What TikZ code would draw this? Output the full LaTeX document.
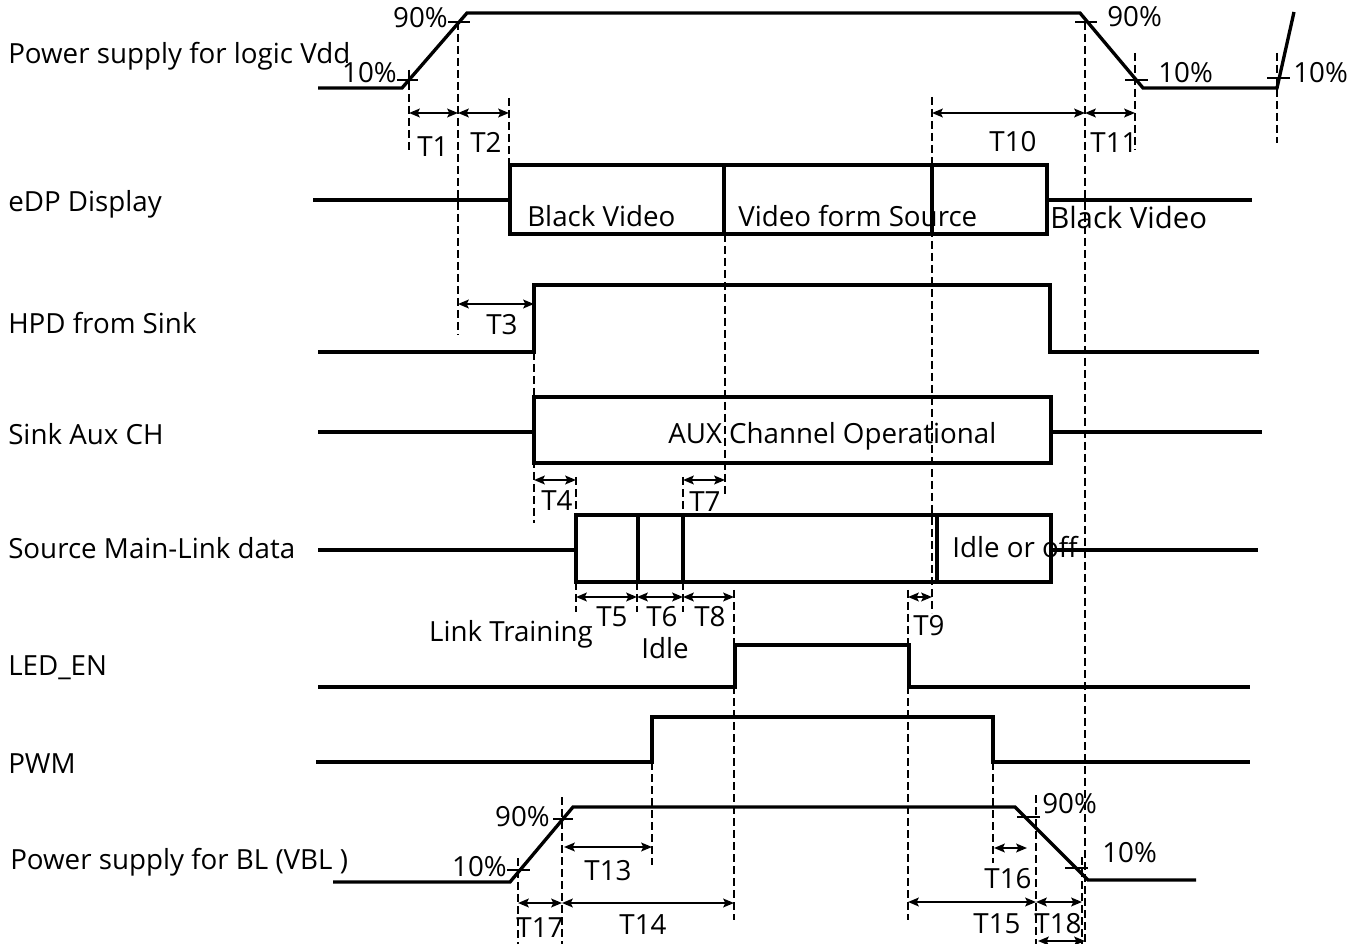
\documentclass[tikz,border=0pt]{standalone}
\usepackage{fontspec}
\setmainfont{Open Sans}
\usetikzlibrary{arrows.meta}
\tikzset{
  sig/.style={line width=2.5pt, line join=miter},
  dim/.style={{Stealth[length=8pt,width=6.5pt,inset=1.5pt]}-{Stealth[length=8pt,width=6.5pt,inset=1.5pt]}, line width=1.5pt},
  dsh/.style={line width=1.1pt, dash pattern=on 6pt off 3pt},
  tck/.style={line width=1.4pt},
  lbl/.style={inner sep=0pt, font=\fontsize{20.8pt}{25pt}\selectfont},
}
\begin{document}
\begin{tikzpicture}[x=0.75pt,y=-0.75pt]
\useasboundingbox (0,0) rectangle (1357,944);

% ---------- left labels
\node[lbl,anchor=base west] (lv) at (8,64) {Power supply for logic Vdd};
\node[lbl,anchor=base west] (le) at (8,212) {eDP Display};
\node[lbl,anchor=base west] (lh) at (8,334) {HPD from Sink};
\node[lbl,anchor=base west] (la) at (8,445) {Sink Aux CH};
\node[lbl,anchor=base west] (ls) at (8,559) {Source Main-Link data};
\node[lbl,anchor=base west] (ll) at (8,676) {LED\_EN};
\node[lbl,anchor=base west] (lp) at (8,773) {PWM};
\node[lbl,anchor=base west] (lb) at (10,869) {Power supply for BL (VBL )};

% ---------- Vdd
\coordinate (v0) at (318,88); \coordinate (v1) at (402,88); \coordinate (v2) at (467,13);
\coordinate (v3) at (1080,13); \coordinate (v4) at (1143,88); \coordinate (v5) at (1277,88);
\coordinate (v6) at (1294,12);
\draw[sig] (v0) -- (v1) -- (v2) -- (v3) -- (v4) -- (v5) -- (v6);
\draw[tck] (397,80) -- (418,80);
\draw[tck] (448,22) -- (470,22);
\draw[tck] (1075,22) -- (1097,22);
\draw[tck] (1125,80) -- (1148,80);
\draw[tck] (1267,78) -- (1290,78);
\draw[tck] (409,70) -- (409,88);
\draw[dsh] (409,70) -- (409,150);
\draw[dsh] (458,22) -- (458,335);
\draw[dsh] (509,98) -- (509,234);
\draw[dsh] (1085,22) -- (1085,944);
\draw[dsh] (1135,53) -- (1135,150);
\draw[dsh] (1277,53) -- (1277,143);
\draw[dsh] (932,97) -- (932,613);
\coordinate (a1) at (409,113); \coordinate (a2) at (458,113); \coordinate (a3) at (509,113);
\coordinate (a4) at (932,113); \coordinate (a5) at (1085,113); \coordinate (a6) at (1135,113);
\draw[dim] (a1) -- (a2);
\draw[dim] (a2) -- (a3);
\draw[dim] (a4) -- (a5);
\draw[dim] (a5) -- (a6);
\node[lbl,anchor=base east] (p1) at (397,83) {10\%};
\node[lbl,anchor=base east] (p2) at (448,28) {90\%};
\node[lbl,anchor=base west] (p3) at (1107,27) {90\%};
\node[lbl,anchor=base west] (p4) at (1158,83) {10\%};
\node[lbl,anchor=base west] (p5) at (1293,83) {10\%};
\node[lbl,anchor=base] (t1) at (433,157) {T1};
\node[lbl,anchor=base] (t2) at (486,153) {T2};
\node[lbl,anchor=base] (t10) at (1013,152) {T10};
\node[lbl,anchor=base] (t11) at (1114,153) {T11};

% ---------- eDP
\draw[sig] (313,200) -- (510,200);
\draw[sig] (510,165) rectangle (1047,234);
\draw[sig] (724,165) -- (724,234);
\draw[sig] (932,165) -- (932,234);
\draw[sig] (1047,200) -- (1252,200);
\draw[dsh] (725,234) -- (725,497);
\node[lbl,anchor=base west] (bv1) at (527,227) {Black Video};
\node[lbl,anchor=base west] (vs) at (738,227) {Video form Source};
\node[lbl,anchor=base west,font=\fontsize{22pt}{26pt}\selectfont] (bv2) at (1050,229) {Black Video};

% ---------- HPD
\draw[sig] (318,352) -- (534,352) -- (534,285) -- (1050,285) -- (1050,352) -- (1259,352);
\coordinate (h1) at (458,304); \coordinate (h2) at (534,304);
\draw[dim] (h1) -- (h2);
\node[lbl,anchor=base] (t3) at (502,335) {T3};
\draw[dsh] (534,352) -- (534,523);

% ---------- Sink Aux
\draw[sig] (318,432) -- (534,432);
\draw[sig] (534,397) rectangle (1051,463);
\draw[sig] (1051,432) -- (1262,432);
\node[lbl,anchor=base west] (aux) at (668,444) {AUX Channel Operational};
\coordinate (b1) at (534,480); \coordinate (b2) at (576,480);
\coordinate (b3) at (683,480); \coordinate (b4) at (725,480);
\draw[dim] (b1) -- (b2);
\draw[dim] (b3) -- (b4);
\draw[dsh] (576,477) -- (576,515);
\draw[dsh] (683,477) -- (683,515);
\node[lbl,anchor=base] (t4) at (557,511) {T4};
\node[lbl,anchor=base] (t7) at (705,512) {T7};

% ---------- Source main link
\draw[sig] (318,550) -- (576,550);
\draw[sig] (576,515) rectangle (1051,582);
\draw[sig] (638,515) -- (638,582);
\draw[sig] (683,515) -- (683,582);
\draw[sig] (937,515) -- (937,582);
\draw[sig] (1051,550) -- (1258,550);
\node[lbl,anchor=base west] (io) at (952,558) {Idle or off};
\coordinate (c1) at (576,597); \coordinate (c2) at (637,597); \coordinate (c3) at (683,597);
\coordinate (c4) at (734,597); \coordinate (c5) at (908,597); \coordinate (c6) at (932,597);
\draw[dim] (c1) -- (c2);
\draw[dim] (c2) -- (c3);
\draw[dim] (c3) -- (c4);
\draw[dim] (c5) -- (c6);
\draw[dsh] (576,582) -- (576,612);
\draw[dsh] (637,582) -- (637,612);
\draw[dsh] (683,582) -- (683,612);
\draw[dsh] (734,590) -- (734,920);
\draw[dsh] (908,590) -- (908,920);
\node[lbl,anchor=base] (t5) at (612,627) {T5};
\node[lbl,anchor=base] (t6) at (662,627) {T6};
\node[lbl,anchor=base] (t8) at (710,627) {T8};
\node[lbl,anchor=base east] (lt) at (593,642) {Link Training};
\node[lbl,anchor=base] (idl) at (665,658) {Idle};
\node[lbl,anchor=base] (t9) at (929,635) {T9};

% ---------- LED_EN
\draw[sig] (318,687) -- (735,687) -- (735,645) -- (909,645) -- (909,687) -- (1250,687);

% ---------- PWM
\draw[sig] (316,762) -- (652,762) -- (652,717) -- (993,717) -- (993,762) -- (1250,762);
\draw[dsh] (652,762) -- (652,865);
\draw[dsh] (993,762) -- (993,863);
\coordinate (d1) at (564,847); \coordinate (d2) at (652,847);
\draw[dim] (d1) -- (d2);
\node[lbl,anchor=base] (t13) at (608,880) {T13};
\coordinate (d3) at (994,848); \coordinate (d4) at (1027,848);
\draw[dim] (d3) -- (d4);
\node[lbl,anchor=base] (t16) at (1008,888) {T16};

% ---------- VBL
\draw[sig] (333,882) -- (510,882) -- (573,807) -- (1015,807) -- (1088,880) -- (1196,880);
\draw[tck] (507,870) -- (530,870);
\draw[tck] (553,819) -- (573,819);
\draw[tck] (1017,817) -- (1040,817);
\draw[tck] (1065,868) -- (1088,868);
\draw[dsh] (518,858) -- (518,944);
\draw[dsh] (562,797) -- (562,944);
\draw[dsh] (1036,795) -- (1036,944);
\draw[dsh] (1082,857) -- (1082,944);
\node[lbl,anchor=base east] (q1) at (550,826) {90\%};
\node[lbl,anchor=base east] (q2) at (507,876) {10\%};
\node[lbl,anchor=base west] (q3) at (1042,813) {90\%};
\node[lbl,anchor=base west] (q4) at (1102,862) {10\%};
\coordinate (e1) at (518,903); \coordinate (e2) at (562,903); \coordinate (e3) at (734,903);
\coordinate (e4) at (908,902); \coordinate (e5) at (1036,902); \coordinate (e6) at (1082,902);
\coordinate (e7) at (1038,941); \coordinate (e8) at (1085,941);
\draw[dim] (e1) -- (e2);
\draw[dim] (e2) -- (e3);
\draw[dim] (e4) -- (e5);
\draw[dim] (e5) -- (e6);
\draw[dim] (e7) -- (e8);
\node[lbl,anchor=base] (t17) at (540,937) {T17};
\node[lbl,anchor=base] (t14) at (643,934) {T14};
\node[lbl,anchor=base] (t15) at (997,933) {T15};
\node[lbl,anchor=base] (t18) at (1058,933) {T18};
\end{tikzpicture}
\end{document}
